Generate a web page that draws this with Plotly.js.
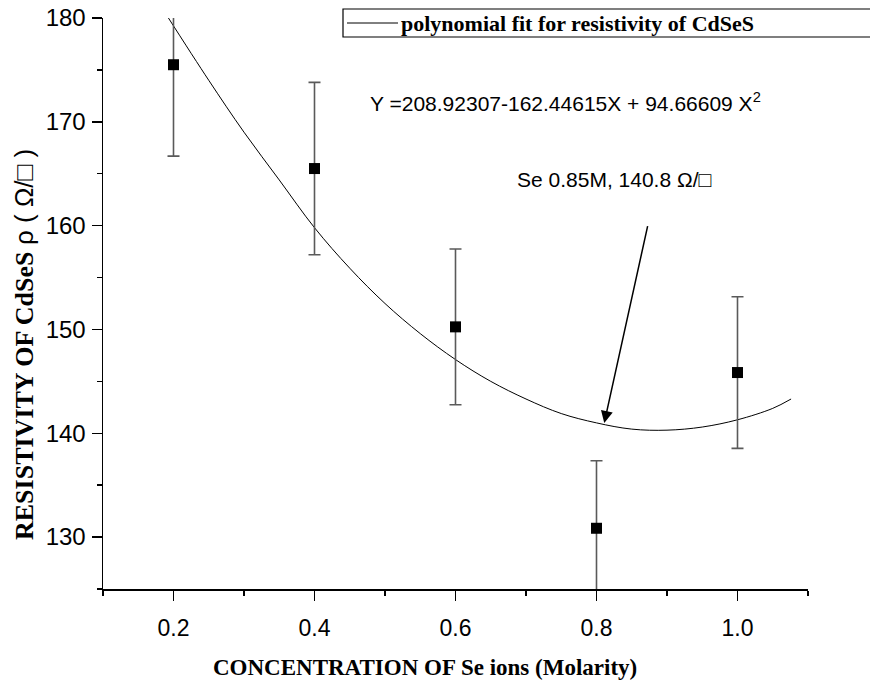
<!DOCTYPE html>
<html>
<head>
<meta charset="utf-8">
<script src="https://cdn.plot.ly/plotly-3.0.1.min.js"></script>
<style>html,body{margin:0;padding:0;background:#fff;}#chart{width:870px;height:684px;}</style>
</head>
<body>
<div id="chart"></div>
<script>
const concentration = [0.2, 0.4, 0.6, 0.8, 1.0];
const resistivity = [175.5, 165.5, 150.25, 130.85, 145.85];
const resistivityErr = [8.8, 8.3, 7.5, 6.5, 7.3];

// Polynomial fit curve
const fitX = [0.19, 0.25, 0.30, 0.35, 0.40, 0.45, 0.50, 0.55, 0.60, 0.65, 0.70, 0.75, 0.80, 0.85, 0.90, 0.95, 1.00, 1.05, 1.076];
const fitY = [180.3, 174.0, 169.0, 164.4, 159.8, 155.9, 152.5, 149.6, 147.1, 145.0, 143.3, 141.9, 141.0, 140.4, 140.3, 140.6, 141.3, 142.4, 143.3];

// Tick labels
const xTickVals = [0.2, 0.4, 0.6, 0.8, 1.0];
const xTickText = ['0.2', '0.4', '0.6', '0.8', '1.0'];
const yTickVals = [130, 140, 150, 160, 170, 180];
const yTickText = ['130', '140', '150', '160', '170', '180'];

// Texts
const legendText = 'polynomial fit for resistivity of CdSeS';
const equationText = 'Y =208.92307-162.44615X + 94.66609 X<sup>2</sup>';
const noteText = 'Se 0.85M, 140.8 Ω/□';
const xTitle = 'CONCENTRATION OF Se ions (Molarity)';
const yTitle = 'RESISTIVITY OF CdSeS <span style="font-family:Liberation Sans, Arial;font-weight:normal">ρ ( Ω/□ )</span>';

const W = 870, H = 684;
const M = {l: 103, r: 62, t: 18, b: 95};
const PW = W - M.l - M.r, PH = H - M.t - M.b;
const px = x => (x - M.l) / PW;
const py = y => (H - M.b - y) / PH;

const serif = 'Liberation Serif, Times New Roman, serif';
const sans = 'Liberation Sans, Arial, sans-serif';

const traces = [
  {
    x: fitX, y: fitY, type: 'scatter', mode: 'lines',
    name: legendText,
    line: {color: '#000', width: 1, shape: 'spline'},
    showlegend: false, hoverinfo: 'skip'
  },
  {
    x: concentration, y: resistivity, type: 'scatter', mode: 'markers',
    name: 'resistivity',
    marker: {symbol: 'square', size: 11, color: '#000'},
    error_y: {type: 'data', array: resistivityErr, visible: true, color: '#5a5a5a', thickness: 1.6, width: 6},
    showlegend: false
  }
];

const layout = {
  width: W, height: H,
  margin: M,
  paper_bgcolor: '#fff', plot_bgcolor: '#fff',
  showlegend: false,
  font: {family: sans, color: '#000'},
  xaxis: {
    range: [0.1, 1.1],
    tickvals: xTickVals, ticktext: xTickText,
    showline: true, linecolor: '#000', linewidth: 1.5,
    ticks: 'outside', ticklen: 10, tickwidth: 1.5, tickcolor: '#000',
    tickfont: {family: sans, size: 23, color: '#000'},
    ticklabelstandoff: 8,
    minor: {dtick: 0.1, tick0: 0.1, ticks: 'outside', ticklen: 5, tickwidth: 1.5, tickcolor: '#000', showgrid: false},
    showgrid: false, zeroline: false
  },
  yaxis: {
    range: [125, 180],
    tickvals: yTickVals, ticktext: yTickText,
    showline: true, linecolor: '#000', linewidth: 1.5,
    ticks: 'outside', ticklen: 10, tickwidth: 1.5, tickcolor: '#000',
    tickfont: {family: sans, size: 24, color: '#000'},
    ticklabelstandoff: 1,
    minor: {dtick: 5, tick0: 125, ticks: 'outside', ticklen: 5, tickwidth: 1.5, tickcolor: '#000', showgrid: false},
    showgrid: false, zeroline: false
  },
  shapes: [
    {type: 'rect', xref: 'paper', yref: 'paper', x0: px(343), x1: px(885), y0: py(37), y1: py(9),
     line: {color: '#000', width: 1.2}, fillcolor: 'rgba(0,0,0,0)'},
    {type: 'line', xref: 'paper', yref: 'paper', x0: px(347), x1: px(398), y0: py(23), y1: py(23),
     line: {color: '#000', width: 1}}
  ],
  annotations: [
    {xref: 'paper', yref: 'paper', x: px(399), y: py(23), xanchor: 'left', yanchor: 'middle',
     text: '<b>' + legendText + '</b>', showarrow: false,
     font: {family: serif, size: 22, color: '#000'}},
    {xref: 'x', yref: 'y', x: 0.476, y: 171.9, xanchor: 'left', yanchor: 'middle',
     text: equationText, showarrow: false, font: {family: sans, size: 21, color: '#000'}},
    {xref: 'x', yref: 'y', x: 0.684, y: 164.4, xanchor: 'left', yanchor: 'middle',
     text: noteText, showarrow: false, font: {family: sans, size: 21, color: '#000'}},
    {xref: 'x', yref: 'y', axref: 'x', ayref: 'y', x: 0.811, y: 141.0, ax: 0.873, ay: 160.1,
     text: '', showarrow: true, arrowhead: 2, arrowsize: 1.6, arrowwidth: 1.5, arrowcolor: '#000'},
    {xref: 'paper', yref: 'paper', x: px(425), y: py(667), xanchor: 'center', yanchor: 'middle',
     text: '<b>' + xTitle + '</b>', showarrow: false, font: {family: serif, size: 23, color: '#000'}},
    {xref: 'paper', yref: 'paper', x: px(24), y: py(345), xanchor: 'center', yanchor: 'middle',
     textangle: -90, text: '<b>' + yTitle + '</b>', showarrow: false, font: {family: serif, size: 26, color: '#000'}}
  ]
};

Plotly.newPlot('chart', traces, layout, {displayModeBar: false, staticPlot: true});
</script>
</body>
</html>
